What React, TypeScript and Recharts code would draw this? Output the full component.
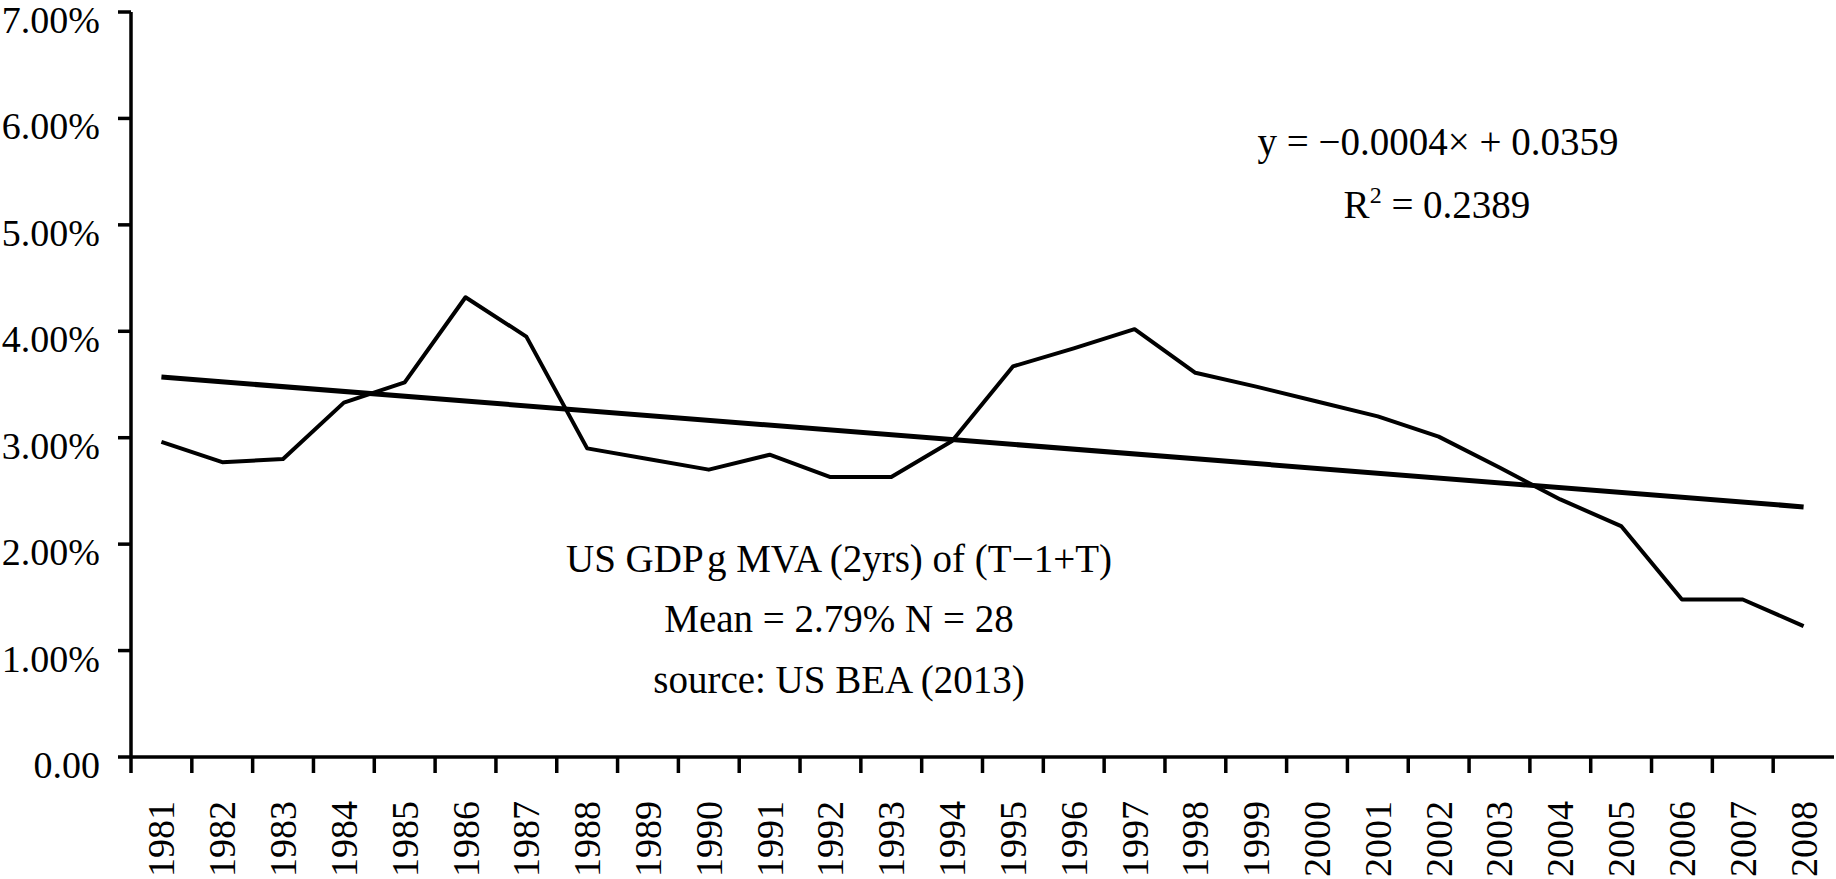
import React from "react";
import { LineChart, Line, XAxis, YAxis } from "recharts";

// values (percent)
const years = [
  "1981", "1982", "1983", "1984", "1985", "1986", "1987", "1988", "1989", "1990",
  "1991", "1992", "1993", "1994", "1995", "1996", "1997", "1998", "1999", "2000",
  "2001", "2002", "2003", "2004", "2005", "2006", "2007", "2008",
];

const gdpGrowth = [
  2.96, 2.77, 2.8, 3.33, 3.52, 4.32, 3.95, 2.9, 2.8, 2.7,
  2.84, 2.63, 2.63, 2.97, 3.67, 3.84, 4.02, 3.61, 3.48, 3.34,
  3.2, 3.01, 2.72, 2.42, 2.17, 1.48, 1.48, 1.23,
];

// linear trend line, start and end as drawn
const trendStart = 3.57;
const trendEnd = 2.35;

const yTicks = [0, 1, 2, 3, 4, 5, 6, 7];

const data = years.map((year, i) => ({
  year,
  growth: gdpGrowth[i],
  trend: i === 0 ? trendStart : i === years.length - 1 ? trendEnd : null,
}));

const FONT = "'Liberation Serif', 'Times New Roman', serif";
const WIDTH = 1836;
const HEIGHT = 879;
const PLOT_LEFT = 131;
const PLOT_RIGHT = 1834;
const STEP = (PLOT_RIGHT - PLOT_LEFT) / years.length;

function YearTick(props: any) {
  const { x, y, payload } = props;
  return (
    <g>
      <line
        x1={x - STEP / 2}
        x2={x - STEP / 2}
        y1={y}
        y2={y + 16}
        stroke="#000"
        strokeWidth={3.5}
      />
      <text
        transform={`translate(${x}, ${y + 44}) rotate(-90)`}
        textAnchor="end"
        dominantBaseline="central"
        fontFamily={FONT}
        fontSize={38}
        fill="#000"
      >
        {payload.value}
      </text>
    </g>
  );
}

function PercentTick(props: any) {
  const { x, y, payload } = props;
  const label = payload.value === 0 ? "0.00" : `${payload.value.toFixed(2)}%`;
  return (
    <text
      x={x}
      y={y + 8}
      textAnchor="end"
      dominantBaseline="central"
      fontFamily={FONT}
      fontSize={38}
      fill="#000"
    >
      {label}
    </text>
  );
}

export default function App() {
  return (
    <div
      style={{
        position: "absolute",
        left: 0,
        top: 0,
        width: WIDTH,
        height: HEIGHT,
        background: "#fff",
        overflow: "hidden",
      }}
    >
      <LineChart
        width={WIDTH}
        height={HEIGHT}
        data={data}
        margin={{ top: 12, right: WIDTH - PLOT_RIGHT, bottom: 0, left: 0 }}
      >
        <XAxis
          dataKey="year"
          scale="point"
          padding={{ left: STEP / 2, right: STEP / 2 }}
          height={122}
          interval={0}
          tickSize={0}
          tickMargin={0}
          tickLine={false}
          axisLine={{ stroke: "#000", strokeWidth: 3.5 }}
          tick={<YearTick />}
        />
        <YAxis
          type="number"
          width={PLOT_LEFT}
          domain={[0, 7]}
          ticks={yTicks}
          interval={0}
          tickSize={13}
          tickMargin={18}
          axisLine={{ stroke: "#000", strokeWidth: 3.5 }}
          tickLine={{ stroke: "#000", strokeWidth: 3.5 }}
          tick={<PercentTick />}
        />
        <Line
          type="linear"
          dataKey="trend"
          stroke="#000"
          strokeWidth={5}
          dot={false}
          connectNulls
          isAnimationActive={false}
        />
        <Line
          type="linear"
          dataKey="growth"
          stroke="#000"
          strokeWidth={4}
          strokeLinejoin="round"
          dot={false}
          isAnimationActive={false}
        />
      </LineChart>
      <svg
        width={WIDTH}
        height={HEIGHT}
        style={{ position: "absolute", left: 0, top: 0, pointerEvents: "none" }}
      >
        <g fontFamily={FONT} fontSize={39} fill="#000" textAnchor="middle">
          <text x={1438} y={155}>y = −0.0004× + 0.0359</text>
          <text x={1437} y={218}>
            R<tspan fontSize={24} dy={-15}>2</tspan>
            <tspan dy={15}> = 0.2389</tspan>
          </text>
          <text x={839} y={572}>US GDP&#8202;g MVA (2yrs) of (T−1+T)</text>
          <text x={839} y={632}>Mean = 2.79% N = 28</text>
          <text x={839} y={693}>source: US BEA (2013)</text>
        </g>
      </svg>
    </div>
  );
}
